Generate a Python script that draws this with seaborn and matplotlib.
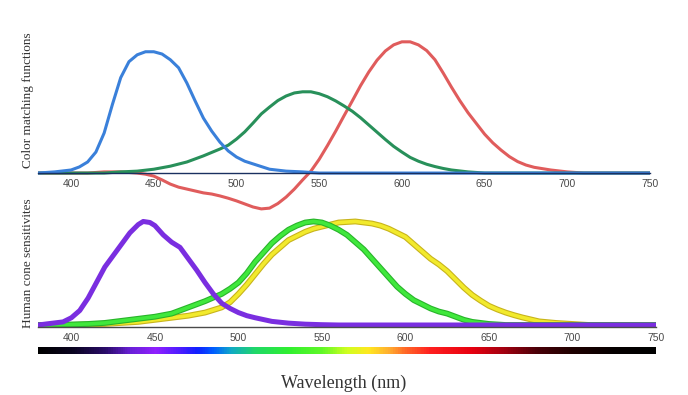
import matplotlib
matplotlib.use("Agg")
import matplotlib.pyplot as plt
import matplotlib.patheffects as pe
from matplotlib.colors import LinearSegmentedColormap, Normalize
import seaborn as sns
import numpy as np

# --- colour matching functions ---
blue_nm = [380, 390, 400, 405, 410, 415, 420, 425, 430, 435, 440, 445, 450, 455,
           460, 465, 470, 475, 480, 485, 490, 495, 500, 505, 510, 520, 530, 540,
           550, 600, 650, 700, 750]
blue_val = [0.000, 0.003, 0.008, 0.016, 0.029, 0.055, 0.105, 0.180, 0.250, 0.292,
            0.310, 0.318, 0.318, 0.312, 0.297, 0.276, 0.236, 0.189, 0.144, 0.110,
            0.081, 0.058, 0.042, 0.031, 0.024, 0.010, 0.005, 0.003, 0.0, 0.0, 0.0,
            0.0, 0.0]

green_nm = [380, 420, 430, 440, 450, 460, 470, 480, 490, 495, 500, 505, 510, 515,
            520, 525, 530, 535, 540, 545, 550, 555, 560, 565, 570, 575, 580, 585,
            590, 595, 600, 605, 610, 615, 620, 625, 630, 640, 650, 700, 750]
green_val = [0.0, 0.0, 0.003, 0.005, 0.010, 0.018, 0.029, 0.045, 0.063, 0.073,
             0.089, 0.108, 0.131, 0.155, 0.173, 0.190, 0.202, 0.210, 0.213, 0.213,
             0.208, 0.200, 0.189, 0.176, 0.162, 0.145, 0.126, 0.107, 0.088, 0.070,
             0.055, 0.041, 0.031, 0.023, 0.017, 0.012, 0.008, 0.003, 0.0, 0.0, 0.0]

red_nm = [380, 410, 420, 430, 440, 445, 450, 455, 460, 465, 470, 475, 480, 485,
          490, 495, 500, 505, 510, 515, 520, 525, 530, 535, 540, 545, 550, 555,
          560, 565, 570, 575, 580, 585, 590, 595, 600, 605, 610, 615, 620, 625,
          630, 635, 640, 645, 650, 655, 660, 665, 670, 675, 680, 690, 700, 710, 750]
red_val = [0.0, 0.0, 0.003, 0.003, 0.0, -0.003, -0.008, -0.018, -0.029, -0.037,
           -0.042, -0.047, -0.052, -0.055, -0.060, -0.066, -0.073, -0.081, -0.089,
           -0.094, -0.092, -0.080, -0.063, -0.042, -0.018, 0.005, 0.036, 0.072,
           0.110, 0.150, 0.189, 0.229, 0.265, 0.296, 0.320, 0.336, 0.344, 0.344,
           0.336, 0.321, 0.297, 0.262, 0.225, 0.190, 0.158, 0.130, 0.102, 0.079,
           0.060, 0.043, 0.030, 0.021, 0.015, 0.008, 0.003, 0.0, 0.0]

# --- normalised cone sensitivities ---
s_nm = [380, 390, 395, 400, 405, 410, 415, 420, 425, 430, 435, 440, 443, 447, 450,
        455, 460, 465, 470, 475, 480, 485, 490, 495, 500, 505, 510, 520, 530, 540,
        550, 560, 650, 750]
s_val = [0.00, 0.02, 0.03, 0.07, 0.14, 0.26, 0.41, 0.56, 0.67, 0.78, 0.89, 0.97,
         1.00, 0.99, 0.96, 0.87, 0.80, 0.75, 0.64, 0.53, 0.41, 0.30, 0.21, 0.16,
         0.12, 0.09, 0.07, 0.035, 0.018, 0.008, 0.003, 0.0, 0.0, 0.0]

m_nm = [380, 400, 410, 420, 430, 440, 450, 460, 470, 480, 490, 495, 500, 505, 510,
        515, 520, 525, 530, 535, 540, 545, 550, 555, 560, 565, 570, 575, 580, 585,
        590, 595, 600, 605, 610, 615, 620, 625, 630, 635, 640, 645, 650, 660, 750]
m_val = [0.0, 0.005, 0.01, 0.02, 0.04, 0.06, 0.08, 0.11, 0.17, 0.23, 0.30, 0.35,
         0.41, 0.50, 0.61, 0.70, 0.79, 0.86, 0.92, 0.96, 0.99, 1.00, 0.99, 0.96,
         0.92, 0.87, 0.80, 0.73, 0.64, 0.55, 0.46, 0.37, 0.30, 0.24, 0.20, 0.16,
         0.13, 0.11, 0.08, 0.05, 0.03, 0.02, 0.01, 0.0, 0.0]

l_nm = [380, 400, 420, 430, 440, 450, 460, 470, 480, 490, 495, 500, 505, 510, 515,
        520, 525, 530, 535, 540, 545, 550, 555, 560, 565, 570, 575, 580, 585, 590,
        595, 600, 605, 610, 615, 620, 625, 630, 635, 640, 645, 650, 655, 660, 665,
        670, 680, 690, 700, 710, 750]
l_val = [0.0, 0.0, 0.01, 0.02, 0.03, 0.05, 0.07, 0.09, 0.12, 0.17, 0.22, 0.30,
         0.39, 0.49, 0.59, 0.68, 0.75, 0.82, 0.86, 0.90, 0.93, 0.95, 0.97, 0.99,
         0.995, 1.00, 0.99, 0.98, 0.96, 0.93, 0.89, 0.85, 0.78, 0.71, 0.64, 0.585,
         0.52, 0.44, 0.36, 0.29, 0.235, 0.185, 0.15, 0.12, 0.095, 0.073, 0.035,
         0.02, 0.01, 0.0, 0.0]

wl_ticks = [400, 450, 500, 550, 600, 650, 700, 750]

# spectrum strip colours
spectrum_nm = [380, 400, 420, 435, 450, 465, 475, 485, 495, 510, 530, 550, 565,
               578, 590, 600, 615, 640, 660, 680, 700, 725, 750]
spectrum_colors = ["#000000", "#0a0420", "#2a0c6a", "#6a20d8", "#9020ff", "#4a1cff",
                   "#1020ff", "#0060ff", "#10a8c8", "#20d868", "#30f030", "#60f828",
                   "#d0ff20", "#ffe820", "#ffb030", "#ff6a28", "#ff2020", "#e80010",
                   "#a00010", "#480008", "#200000", "#060000", "#000000"]

W, H = 688, 395
sns.set_theme(style="white")
plt.rcParams["font.family"] = ["Liberation Sans", "DejaVu Sans"]
plt.rcParams["lines.solid_joinstyle"] = "round"
plt.rcParams["lines.solid_capstyle"] = "round"

fig = plt.figure(figsize=(W / 100, H / 100), dpi=100)


def px_box(x0, y0, x1, y1):
    return [x0 / W, 1 - y1 / H, (x1 - x0) / W, (y1 - y0) / H]


def style_axis(ax):
    for side in ["left", "right", "top"]:
        ax.spines[side].set_visible(False)
    ax.spines["bottom"].set_color("#4a4a4a")
    ax.spines["bottom"].set_linewidth(1.0)
    ax.set_yticks([])
    ax.set_xticks(wl_ticks)
    ax.set_xticklabels([str(t) for t in wl_ticks])
    ax.tick_params(axis="x", length=0, pad=4.5, labelsize=7.5, labelcolor="#4a4a4a")
    ax.set_xlim(380, 750)
    ax.set_xlabel("")
    ax.set_ylabel("")
    ax.patch.set_alpha(0)


# top panel: colour matching functions
ax1 = fig.add_axes(px_box(38, 30, 650, 215))
sns.lineplot(x=red_nm, y=red_val, ax=ax1, color="#e05c5c", lw=2.2)
sns.lineplot(x=green_nm, y=green_val, ax=ax1, color="#28905a", lw=2.2)
sns.lineplot(x=blue_nm, y=blue_val, ax=ax1, color="#3a80da", lw=2.2)
ax1.set_ylim(-0.110, 0.375)
style_axis(ax1)
ax1.spines["bottom"].set_position(("data", 0))
ax1.spines["bottom"].set_color("#1a3060")
ax1.spines["bottom"].set_zorder(3)

# bottom panel: cone sensitivities
ax2 = fig.add_axes(px_box(38, 205, 656, 327))
sns.lineplot(x=l_nm, y=l_val, ax=ax2, color="#f2ea2c", lw=2.6,
             path_effects=[pe.Stroke(linewidth=4.2, foreground="#c8b41c"), pe.Normal()])
sns.lineplot(x=m_nm, y=m_val, ax=ax2, color="#40e83c", lw=2.6,
             path_effects=[pe.Stroke(linewidth=4.2, foreground="#28b42a"), pe.Normal()])
sns.lineplot(x=s_nm, y=s_val, ax=ax2, color="#7a2ee0", lw=3.6)
ax2.set_ylim(-0.0193, 1.159)
style_axis(ax2)

# spectrum strip
ax3 = fig.add_axes(px_box(38, 347, 656, 354))
spec_cmap = LinearSegmentedColormap.from_list(
    "spectrum",
    [((n - 380) / 370, c) for n, c in zip(spectrum_nm, spectrum_colors)])
grad = np.linspace(380, 750, 740)[None, :]
ax3.imshow(grad, cmap=spec_cmap, norm=Normalize(380, 750), aspect="auto",
           extent=[380, 750, 0, 1])
ax3.set_axis_off()

serif = ["Liberation Serif", "DejaVu Serif"]
fig.text(28 / W, 1 - 100 / H, "Color matching functions", rotation=90,
         ha="center", va="center", family=serif, fontsize=9.5, color="#333333")
fig.text(28 / W, 1 - 263 / H, "Human cone sensitivites", rotation=90,
         ha="center", va="center", family=serif, fontsize=9.5, color="#333333")
fig.text(344 / W, 1 - 383 / H, "Wavelength (nm)", ha="center", va="center",
         family=serif, fontsize=13, color="#333333")

fig.savefig("out.png", dpi=100)
